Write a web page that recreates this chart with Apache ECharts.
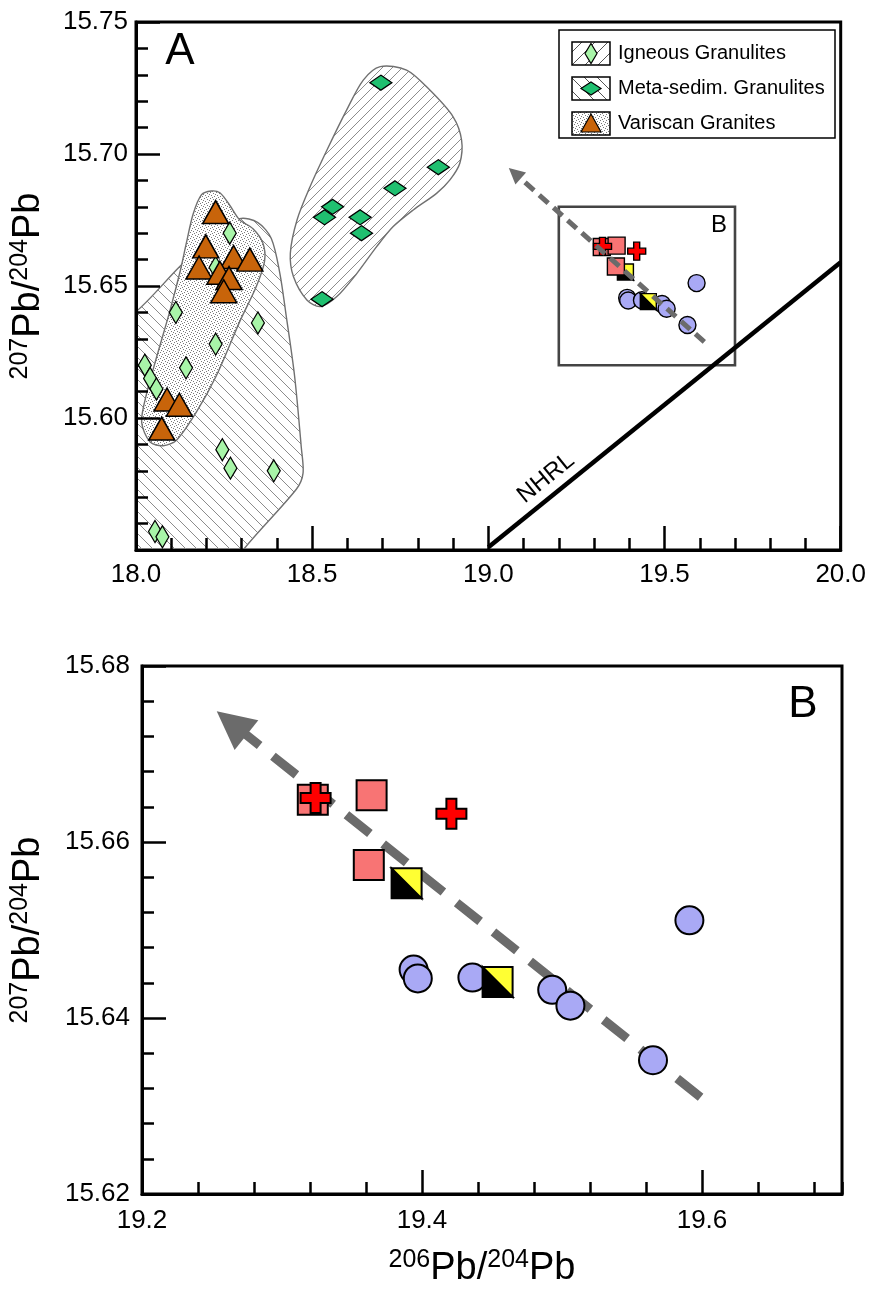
<!DOCTYPE html>
<html><head><meta charset="utf-8">
<script src="https://cdn.jsdelivr.net/npm/echarts@6/dist/echarts.min.js"></script>
<style>html,body{margin:0;padding:0;background:#fff}#c{width:869px;height:1293px}</style>
</head><body><div id="c"></div>
<script>
// ---------------- DATA (206Pb/204Pb, 207Pb/204Pb) ----------------
const igneousGranulites = [
  [18.226,15.657],[18.266,15.670],[18.113,15.640],[18.346,15.636],[18.226,15.628],
  [18.142,15.619],[18.025,15.620],[18.040,15.615],[18.058,15.611],[18.245,15.588],
  [18.268,15.581],[18.391,15.580],[18.054,15.557],[18.075,15.555]
];
const metaSedimGranulites = [
  [18.695,15.727],[18.858,15.695],[18.735,15.687],[18.558,15.680],[18.535,15.676],
  [18.636,15.676],[18.640,15.670],[18.528,15.645]
];
const variscanGranites = [
  [18.226,15.678],[18.198,15.665],[18.277,15.661],[18.323,15.660],[18.179,15.657],
  [18.238,15.655],[18.264,15.653],[18.249,15.648],[18.088,15.607],[18.123,15.605],
  [18.073,15.596]
];
// sample groups shown in detail (panel B, and inset of panel A)
const circles = [[19.394,15.6455],[19.397,15.6445],[19.436,15.6446],[19.493,15.6432],[19.506,15.6414],[19.565,15.6352],[19.591,15.6511]];
const halfSquares = [[19.389,15.6553],[19.454,15.6441]];
const pinkSquares = [[19.322,15.6648],[19.364,15.6653],[19.362,15.6574]];
const redCrosses = [[19.324,15.6650],[19.421,15.6632]];
// envelopes (outline vertices)
const igneousEnvelope = [[17.936,15.636],[18.002,15.6405],[18.125,15.6575],[18.219,15.669],[18.294,15.6755],[18.346,15.674],[18.384,15.668],[18.408,15.655],[18.426,15.639],[18.450,15.616],[18.469,15.589],[18.474,15.579],[18.455,15.573],[18.304,15.550],[18.266,15.541],[17.936,15.541]];
const variscanEnvelope = [[18.214,15.686],[18.238,15.6853],[18.266,15.6806],[18.294,15.6751],[18.332,15.6717],[18.360,15.6663],[18.365,15.6595],[18.342,15.650],[18.294,15.6364],[18.228,15.616],[18.172,15.6024],[18.115,15.5916],[18.077,15.5895],[18.040,15.5909],[18.016,15.5984],[18.030,15.6092],[18.058,15.6228],[18.096,15.6405],[18.125,15.6554],[18.143,15.6663],[18.162,15.6772],[18.186,15.6846]];
const metaEnvelope = [[18.693,15.7331],[18.768,15.7318],[18.834,15.7242],[18.900,15.7141],[18.924,15.7053],[18.919,15.6965],[18.891,15.6902],[18.853,15.6851],[18.787,15.6788],[18.730,15.6725],[18.683,15.6649],[18.627,15.6548],[18.570,15.6460],[18.523,15.6422],[18.485,15.6447],[18.447,15.6535],[18.438,15.6624],[18.457,15.6750],[18.494,15.6876],[18.542,15.7015],[18.598,15.7167],[18.645,15.7280]];
const nhrl = [[19.0,15.551],[20.0,15.659]];
const arrowA = [[19.613,15.6288],[19.075,15.6927]];
const arrowB = [[19.599,15.631],[19.264,15.6735]];
const insetBox = [[19.2,15.62],[19.7,15.68]];
const axisA = {xMin:18.0, xMax:20.0, xStep:0.5, yMin:15.55, yMax:15.75, yStep:0.05};
const axisB = {xMin:19.2, xMax:19.7, xStep:0.2, xMinor:0.04, yMin:15.62, yMax:15.68, yStep:0.02};

// ---------------- STYLE ----------------
const F = "'Liberation Sans', Arial, sans-serif";
function makeHatch(size, dir, color, lw){
  const c=document.createElement('canvas'); c.width=size; c.height=size;
  const g=c.getContext('2d'); g.strokeStyle=color; g.lineWidth=lw; g.beginPath();
  for(let k=-1;k<=1;k++){
    if(dir==='back'){ g.moveTo(k*size-2,-2); g.lineTo(k*size+size+2,size+2); }
    else { g.moveTo(k*size-2,size+2); g.lineTo(k*size+size+2,-2); }
  }
  g.stroke(); return c;
}
function makeStipple(){
  const c=document.createElement('canvas'); c.width=6; c.height=6;
  const g=c.getContext('2d'); g.fillStyle='#fff'; g.fillRect(0,0,6,6);
  g.fillStyle='#7a7a7a';
  [[0,0],[3,1],[1,3],[4,4],[2,5],[5,2]].forEach(p=>g.fillRect(p[0],p[1],1,1));
  return c;
}
const patBack = {image:makeHatch(11,'back','#8c8c8c',1), repeat:'repeat'};
const patFwd = {image:makeHatch(10,'fwd','#8c8c8c',1), repeat:'repeat'};
const patStip = {image:makeStipple(), repeat:'repeat'};
const legFwd = {image:makeHatch(13,'fwd','#555',1), repeat:'repeat'};
const legBack = {image:makeHatch(13,'back','#555',1), repeat:'repeat'};

const C_IGN='#a8f5a8', C_META='#20c070', C_VAR='#c8640a';
const C_CIRC='#a9a9f5', C_PINK='#f87474', C_RED='#ff0000', C_YEL='#ffff33';
const CROSS='path://M4,0 H8 V4 H12 V8 H8 V12 H4 V8 H0 V4 H4 Z';
const HALF_BLACK='path://M0,0 L10,10 L0,10 Z';
const HALF_YEL='path://M0,0 L10,0 L10,10 Z';

function envelope(pts, fill, z){
  return {type:'custom', xAxisIndex:0, yAxisIndex:0, clip:true, silent:true, z:z,
    data:pts,
    renderItem:(p,api)=>{ if(p.dataIndex!==0) return null;
      return {type:'polygon', shape:{points:pts.map(q=>api.coord(q)), smooth:0.3},
        style:{fill:fill, stroke:'#707070', lineWidth:1.4}}; }};
}
function scat(xi, yi, data, symbol, size, color, bw, z){
  return {type:'scatter', xAxisIndex:xi, yAxisIndex:yi, data:data, symbol:symbol, symbolSize:size,
    silent:true, z:z||5, itemStyle:{color:color, borderColor:'#000', borderWidth:bw, opacity:1}};
}
function arrow(xi, yi, pts, width, dash, head, z){
  return {type:'lines', coordinateSystem:'cartesian2d', xAxisIndex:xi, yAxisIndex:yi, silent:true, z:z,
    symbol:['none','triangle'], symbolSize:head,
    lineStyle:{color:'#6b6b6b', width:width, type:dash, opacity:1, cap:'butt'},
    data:[{coords:pts}]};
}
function groupB(xi, yi, s){
  return [
    scat(xi,yi,circles,'circle',s.c,C_CIRC,s.bw),
    scat(xi,yi,halfSquares,HALF_BLACK,s.h,'#000',s.bw),
    scat(xi,yi,halfSquares,HALF_YEL,s.h,C_YEL,s.bw),
    scat(xi,yi,pinkSquares,'rect',s.q,C_PINK,s.bw),
    scat(xi,yi,redCrosses,CROSS,s.x,C_RED,s.bw)
  ];
}
const tickMaj = {show:true, inside:true, length:24, lineStyle:{color:'#000', width:2.5}};
const tickMin = {show:true, splitNumber:5, length:12, lineStyle:{color:'#000', width:2.5}};
const aLine = {show:true, onZero:false, lineStyle:{color:'#000', width:3}};
const lbl = (d, extra) => Object.assign({color:'#000', fontSize:26, fontFamily:F, formatter:v=>Number(v).toFixed(d)}, extra||{});
const titleY = '{s|207}{p|Pb/}{s|204}{p|Pb}';
const titleX = '{s|206}{p|Pb/}{s|204}{p|Pb}';
const titleStyle = {rich:{s:{fontSize:25, fontFamily:F, color:'#000', verticalAlign:'top', lineHeight:42},
                          p:{fontSize:38, fontFamily:F, color:'#000', lineHeight:42}}};

const option = {
  backgroundColor:'#fff', animation:false,
  grid:[
    {left:136, top:22, width:706, height:528, show:true, borderColor:'#000', borderWidth:3, backgroundColor:'transparent'},
    {left:142, top:666, width:700, height:528, show:true, borderColor:'#000', borderWidth:3, backgroundColor:'transparent'}
  ],
  xAxis:[
    {gridIndex:0, type:'value', position:'bottom', min:axisA.xMin, max:axisA.xMax, interval:axisA.xStep, z:3,
     axisLine:aLine, axisTick:tickMaj, minorTick:tickMin, splitLine:{show:false}, minorSplitLine:{show:false},
     axisLabel:lbl(1,{margin:12})},
    {gridIndex:1, type:'value', position:'bottom', min:axisB.xMin, max:axisB.xMax, interval:axisB.xStep, z:3,
     axisLine:aLine, axisTick:tickMaj, splitLine:{show:false},
     axisLabel:lbl(1,{margin:14, showMaxLabel:false}),
     name:titleX, nameLocation:'middle', nameGap:54,
     nameTextStyle:Object.assign({padding:[0,20,0,0]}, titleStyle)},
    {gridIndex:1, type:'value', position:'bottom', min:axisB.xMin, max:axisB.xMax, interval:axisB.xMinor, z:3,
     axisLine:{show:false}, axisTick:{show:true, inside:true, length:12, lineStyle:{color:'#000', width:2.5}},
     splitLine:{show:false}, axisLabel:{show:false}}
  ],
  yAxis:[
    {gridIndex:0, type:'value', position:'left', min:axisA.yMin, max:axisA.yMax, interval:axisA.yStep, z:3,
     axisLine:aLine, axisTick:tickMaj, minorTick:tickMin, splitLine:{show:false}, minorSplitLine:{show:false},
     axisLabel:lbl(2,{margin:8, showMinLabel:false}),
     name:titleY, nameLocation:'middle', nameRotate:90, nameGap:86, nameTextStyle:titleStyle},
    {gridIndex:1, type:'value', position:'left', min:axisB.yMin, max:axisB.yMax, interval:axisB.yStep, z:3,
     axisLine:aLine, axisTick:tickMaj, minorTick:tickMin, splitLine:{show:false}, minorSplitLine:{show:false},
     axisLabel:lbl(2,{margin:12}),
     name:titleY, nameLocation:'middle', nameRotate:90, nameGap:92, nameTextStyle:titleStyle}
  ],
  series:[
    envelope(igneousEnvelope, patBack, 1),
    envelope(variscanEnvelope, patStip, 1),
    envelope(metaEnvelope, patFwd, 1),
    {type:'line', xAxisIndex:0, yAxisIndex:0, data:nhrl, symbol:'none', silent:true, z:2,
     lineStyle:{color:'#000', width:4.5}},
    {type:'custom', xAxisIndex:0, yAxisIndex:0, silent:true, z:2, data:insetBox,
     renderItem:(p,api)=>{ if(p.dataIndex!==0) return null;
       const a=api.coord(insetBox[0]), b=api.coord(insetBox[1]);
       return {type:'rect', shape:{x:a[0], y:b[1], width:b[0]-a[0], height:a[1]-b[1]},
               style:{fill:'none', stroke:'#444', lineWidth:2.6}}; }},
    scat(0,0,igneousGranulites,'diamond',[13,22],C_IGN,1.3),
    scat(0,0,metaSedimGranulites,'diamond',[22,15],C_META,1.3),
    scat(0,0,variscanGranites,'triangle',[26,23],C_VAR,1.5),
    ...groupB(0,0,{c:17,h:16,q:17,x:18,bw:1.4}),
    arrow(0,0,arrowA,5,[12,7],16,6),
    arrow(1,1,arrowB,9,[30,17],38,2),
    ...groupB(1,1,{c:28,h:30,q:30,x:30,bw:2})
  ],
  graphic:[
    {type:'text', x:180, y:52, z:20, style:{text:'A', fontSize:44, fontFamily:F, fill:'#000', align:'center', verticalAlign:'middle'}},
    {type:'text', x:719, y:225, z:20, style:{text:'B', fontSize:24, fontFamily:F, fill:'#000', align:'center', verticalAlign:'middle'}},
    {type:'text', x:803, y:705, z:20, style:{text:'B', fontSize:44, fontFamily:F, fill:'#000', align:'center', verticalAlign:'middle'}},
    {type:'text', x:546, y:478, rotation:39*Math.PI/180, z:20, style:{text:'NHRL', fontSize:24, fontFamily:F, fill:'#000', align:'center', verticalAlign:'middle'}},
    // legend
    {type:'rect', z:20, shape:{x:559, y:30, width:276, height:108}, style:{fill:'#fff', stroke:'#000', lineWidth:1.5}},
    {type:'rect', z:21, shape:{x:572, y:42, width:38, height:23}, style:{fill:legFwd, stroke:'#000', lineWidth:1.5}},
    {type:'polygon', z:22, shape:{points:[[591,43.5],[597,53.5],[591,63.5],[585,53.5]]}, style:{fill:C_IGN, stroke:'#000', lineWidth:1.2}},
    {type:'text', z:21, x:618, y:53.5, style:{text:'Igneous Granulites', fontSize:20, fontFamily:F, fill:'#000', verticalAlign:'middle'}},
    {type:'rect', z:21, shape:{x:572, y:77, width:38, height:23}, style:{fill:legBack, stroke:'#000', lineWidth:1.5}},
    {type:'polygon', z:22, shape:{points:[[581,88.5],[591,82],[601,88.5],[591,95]]}, style:{fill:C_META, stroke:'#000', lineWidth:1.2}},
    {type:'text', z:21, x:618, y:88.5, style:{text:'Meta-sedim. Granulites', fontSize:20, fontFamily:F, fill:'#000', verticalAlign:'middle'}},
    {type:'rect', z:21, shape:{x:572, y:112, width:38, height:23}, style:{fill:patStip, stroke:'#000', lineWidth:1.5}},
    {type:'polygon', z:22, shape:{points:[[591,114],[601,132],[581,132]]}, style:{fill:C_VAR, stroke:'#000', lineWidth:1.2}},
    {type:'text', z:21, x:618, y:123.5, style:{text:'Variscan Granites', fontSize:20, fontFamily:F, fill:'#000', verticalAlign:'middle'}}
  ]
};
const chart = echarts.init(document.getElementById('c'), null, {renderer:'canvas', width:869, height:1293});
chart.setOption(option);
</script>
</body></html>
